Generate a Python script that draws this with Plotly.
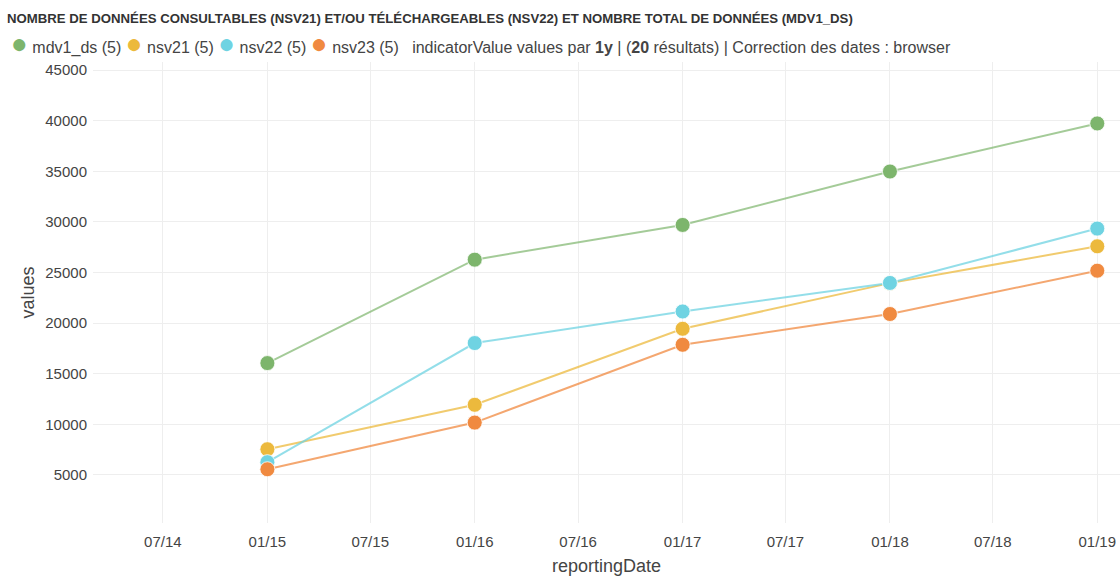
import plotly.graph_objects as go

dates = ["2015-01-01", "2016-01-01", "2017-01-01", "2018-01-01", "2019-01-01"]
mdv1_ds = [16050, 26270, 29700, 34980, 39730]
nsv21 = [7540, 11930, 19440, 23950, 27590]
nsv22 = [6260, 18030, 21150, 23970, 29340]
nsv23 = [5560, 10170, 17860, 20900, 25180]

series = [
    ("mdv1_ds", mdv1_ds, "#7db56c", "rgba(125,181,108,0.7)"),
    ("nsv21", nsv21, "#ecb93d", "rgba(236,185,61,0.75)"),
    ("nsv22", nsv22, "#6fd3e2", "rgba(111,211,226,0.75)"),
    ("nsv23", nsv23, "#f08a40", "rgba(240,138,64,0.75)"),
]

FONT = "Liberation Sans, Arial, sans-serif"
W, H = 1120, 576
L, R, T, B = 93, 0, 62, 53
pw, ph = W - L - R, H - T - B

fig = go.Figure()
for name, vals, mc, lc in series:
    fig.add_trace(go.Scatter(
        x=dates, y=vals, name=name, mode="lines+markers",
        line=dict(color=lc, width=2),
        marker=dict(color=mc, size=15, line=dict(color="rgba(255,255,255,0.8)", width=1)),
        showlegend=False, cliponaxis=False,
    ))

legend_parts = []
for name, vals, mc, lc in series:
    legend_parts.append(
        f'<span style="color:{mc};font-size:28px">●</span> {name} ({len(vals)})'
    )
legend_text = " ".join(legend_parts) + \
    "   indicatorValue values par <b>1y</b> | (<b>20</b> résultats) | Correction des dates : browser"

fig.add_annotation(
    text=legend_text, xref="paper", yref="paper",
    x=(9 - L) / pw, y=(H - B - 43) / ph, xanchor="left", yanchor="middle",
    showarrow=False, font=dict(family=FONT, size=16, color="#444"),
)

fig.update_layout(
    width=W, height=H,
    margin=dict(l=L, r=R, t=T, b=B, pad=0),
    paper_bgcolor="white", plot_bgcolor="white",
    title=dict(
        text="<b>NOMBRE DE DONNÉES CONSULTABLES (NSV21) ET/OU TÉLÉCHARGEABLES (NSV22) ET NOMBRE TOTAL DE DONNÉES (MDV1_DS)</b>",
        xref="container", yref="container", x=7 / W, y=1 - 18 / H,
        xanchor="left", yanchor="middle",
        font=dict(family=FONT, size=13.2, color="#333"),
    ),
    font=dict(family=FONT, size=15, color="#444"),
    xaxis=dict(
        type="date", range=["2014-02-28", "2019-02-10"],
        dtick="M6", tick0="2015-01-01", tickformat="%m/%y",
        showgrid=True, gridcolor="#eeeeee", zeroline=False, showline=False,
        ticks="", ticklen=0, ticklabelstandoff=8,
        tickfont=dict(size=15, color="#444"),
        title=dict(text="reportingDate", font=dict(size=18, color="#444"), standoff=10),
    ),
    yaxis=dict(
        range=[250, 45800], dtick=5000, tick0=0, tickformat="d",
        showgrid=True, gridcolor="#eeeeee", zeroline=False, showline=False,
        ticklabelstandoff=5,
        tickfont=dict(size=15, color="#444"),
        title=dict(text="values", font=dict(size=18, color="#444"), standoff=5),
    ),
)

fig.write_html("out.html", config={"displayModeBar": False},
               post_script="document.body.style.margin='0';")
